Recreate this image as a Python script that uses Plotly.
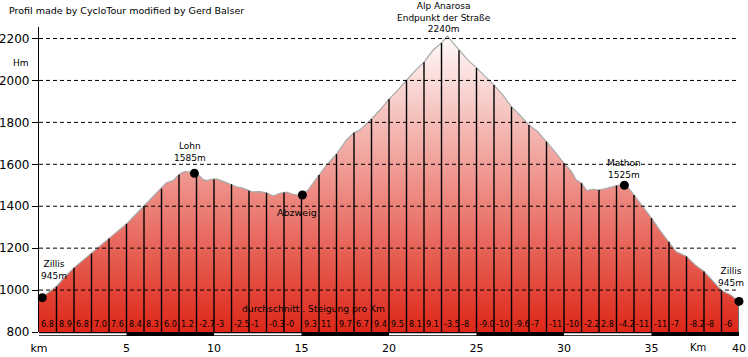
import numpy as np
import plotly.graph_objects as go

# ---------------- data ----------------
PROFILE_KM = [0, 0.5, 1.0, 1.5, 2.0, 2.5, 3.0, 3.5, 4.0, 4.5, 5.0, 5.5, 6.0, 6.5, 7.0,
              7.28, 7.66, 8.0, 8.23, 8.42, 8.8, 9.0, 9.18, 9.37, 9.56, 9.85, 10.13, 10.42,
              10.7, 11.0, 11.27, 11.65, 12.0, 12.2, 12.6, 13.0, 13.38, 13.76, 14.14, 14.52,
              15.0, 15.38, 16.0, 16.52, 17.0, 17.57, 18.0, 18.33, 19.0, 19.48, 20.0, 20.51,
              21.0, 21.48, 22.0, 22.51, 23.0, 23.34, 23.66, 24.0, 24.51, 25.0, 25.56, 26.0,
              26.51, 27.0, 27.47, 28.0, 28.5, 29.0, 29.56, 30.0, 30.43, 30.7, 31.0, 31.3,
              31.6, 32.0, 32.4, 33.0, 33.4, 33.7, 34.0, 34.5, 35.0, 35.46, 36.0, 36.4, 37.0,
              37.5, 38.0, 38.5, 39.0, 39.5, 40.0]
PROFILE_M = [950, 986, 1017, 1065, 1106, 1141, 1174, 1208, 1246, 1279, 1316, 1358, 1401, 1443, 1484,
             1512, 1522, 1550, 1563, 1565, 1560, 1552, 1544, 1528, 1522, 1528, 1530, 1522,
             1512, 1505, 1493, 1486, 1474, 1468, 1470, 1464, 1449, 1462, 1467, 1457,
             1450, 1478, 1549, 1605, 1649, 1716, 1750, 1763, 1816, 1859, 1911, 1954,
             2001, 2046, 2087, 2144, 2179, 2212, 2179, 2144, 2097, 2060, 2014, 1978,
             1930, 1874, 1835, 1787, 1755, 1708, 1652, 1605, 1565, 1525, 1510, 1474,
             1481, 1478, 1484, 1498, 1503, 1486, 1454, 1398, 1343, 1287, 1231, 1184, 1160,
             1120, 1089, 1041, 998, 978, 946]

KM_MARKS = list(range(1, 41))
GRADIENTS = ["6.8", "8.9", "6.8", "7.0", "7.6", "8.4", "8.3", "6.0", "1.2", "-2.7",
             "-3", "-2.5", "-1", "-0.3", "-0", "9.3", "11", "9.7", "6.7", "9.4",
             "9.5", "8.1", "9.1", "-3.5", "-8", "-9.0", "-10", "-9.6", "-7", "-11",
             "-10", "-2.2", "2.8", "-4.2", "-11", "-11", "-7", "-8.2", "-8", "-6"]

PLACES_KM = [0.19, 8.88, 15.05, 33.45, 40.0]

Y_TICKS = [800, 1000, 1200, 1400, 1600, 1800, 2000, 2200]
X_TICKS = [0, 5, 10, 15, 20, 25, 30, 35, 40]
X_TICK_TEXT = ["km", "5", "10", "15", "20", "25", "30", "35", "40"]
BAR_SEGMENTS = [(0, 5), (10, 15), (20, 25), (30, 35)]  # white segments of the scale bar

FONT = "DejaVu Sans"

fig = go.Figure()

# profile fill with vertical gradient
fig.add_trace(go.Scatter(
    x=PROFILE_KM, y=PROFILE_M, mode="lines",
    line=dict(color="#a9a9a9", width=1.2),
    fill="tozeroy",
    fillgradient=dict(type="vertical", colorscale=[[0, "#de2718"], [1, "#ffffff"]],
                      start=800, stop=2240),
    hoverinfo="skip", showlegend=False))

# vertical km lines
vx, vy = [], []
for k in KM_MARKS[:-1]:
    top = float(np.interp(k, PROFILE_KM, PROFILE_M))
    vx += [k, k, None]
    vy += [Y_TICKS[0], top, None]
fig.add_trace(go.Scatter(x=vx, y=vy, mode="lines", line=dict(color="black", width=1.4),
                         hoverinfo="skip", showlegend=False))
last = KM_MARKS[-1]
fig.add_trace(go.Scatter(x=[last, last], y=[Y_TICKS[0], float(np.interp(last, PROFILE_KM, PROFILE_M))],
                         mode="lines", line=dict(color="#3d8a8a", width=1.4),
                         hoverinfo="skip", showlegend=False, cliponaxis=False))

# place markers
fig.add_trace(go.Scatter(
    x=PLACES_KM, y=np.interp(PLACES_KM, PROFILE_KM, PROFILE_M),
    mode="markers", marker=dict(color="black", size=9),
    cliponaxis=False, hoverinfo="skip", showlegend=False))

# dashed grid lines above the fill
shapes = []
for yv in Y_TICKS[1:]:
    shapes.append(dict(type="line", xref="paper", yref="y", x0=0, x1=1, y0=yv, y1=yv,
                       line=dict(color="black", width=1, dash="4px,3px"), layer="above"))
# scale bar below axis
shapes.append(dict(type="rect", xref="x", yref="paper", x0=X_TICKS[0], x1=X_TICKS[-1],
                   y0=-0.0131, y1=0, fillcolor="black", line=dict(width=0), layer="above"))
for a, b in BAR_SEGMENTS:
    shapes.append(dict(type="rect", xref="x", yref="paper", x0=a, x1=b,
                       y0=-0.0108, y1=-0.0043, fillcolor="white", line=dict(width=0), layer="above"))

ann = []
def label(text, x, y, xref="x", yref="y", size=9.5, xanchor="center"):
    ann.append(dict(text=text, x=x, y=y, xref=xref, yref=yref, showarrow=False,
                    xanchor=xanchor, yanchor="middle", font=dict(family=FONT, size=size, color="black")))

# gradient labels
for k, g in zip(KM_MARKS, GRADIENTS):
    label(g, k - 1 + 0.01, 837, size=8, xanchor="left")

label("durchschnitt . Steigung pro Km", 11.5, 910, size=9.2, xanchor="left")
label("Zillis<br>945m", 0.87, 1097, size=9)
label("Lohn<br>1585m", 8.6, 1660, size=9)
label("Abzweig", 14.77, 1370)
label("Alp Anarosa<br>Endpunkt der Straße<br>2240m", 23.15, 1.0309, yref="paper", size=9)
label("Mathon<br>1525m", 33.44, 1576, size=9)
label("Zillis<br>945m", 39.55, 1062, size=9)
label("Km", 37.64, -0.05, yref="paper", size=10)
label("Hm", -0.0257, 2085, xref="paper", size=9)
label("Profil made by CycloTour modified by Gerd Balser", -0.046, 1.0557,
      xref="paper", yref="paper", size=9.5, xanchor="left")

fig.update_layout(
    width=748, height=357,
    margin=dict(l=39, r=9, t=27, b=25, autoexpand=False),
    paper_bgcolor="white", plot_bgcolor="white",
    shapes=shapes, annotations=ann,
    showlegend=False,
    xaxis=dict(range=[0, 40], tickvals=X_TICKS, ticktext=X_TICK_TEXT, automargin=False,
               showgrid=False, zeroline=False, showline=False,
               ticks="outside", ticklen=6, tickcolor="rgba(0,0,0,0)",
               tickfont=dict(family=FONT, size=11, color="black")),
    yaxis=dict(range=[800, 2255], tickvals=Y_TICKS, showgrid=False, zeroline=False,
               automargin=False,
               showline=True, linecolor="black", linewidth=1.3,
               ticks="outside", ticklen=6, tickcolor="black", tickwidth=1,
               tickfont=dict(family=FONT, size=12, color="black")),
)

fig.write_html("out.html", config={"displayModeBar": False},
               post_script="document.body.style.margin='0';document.body.style.padding='0';")
